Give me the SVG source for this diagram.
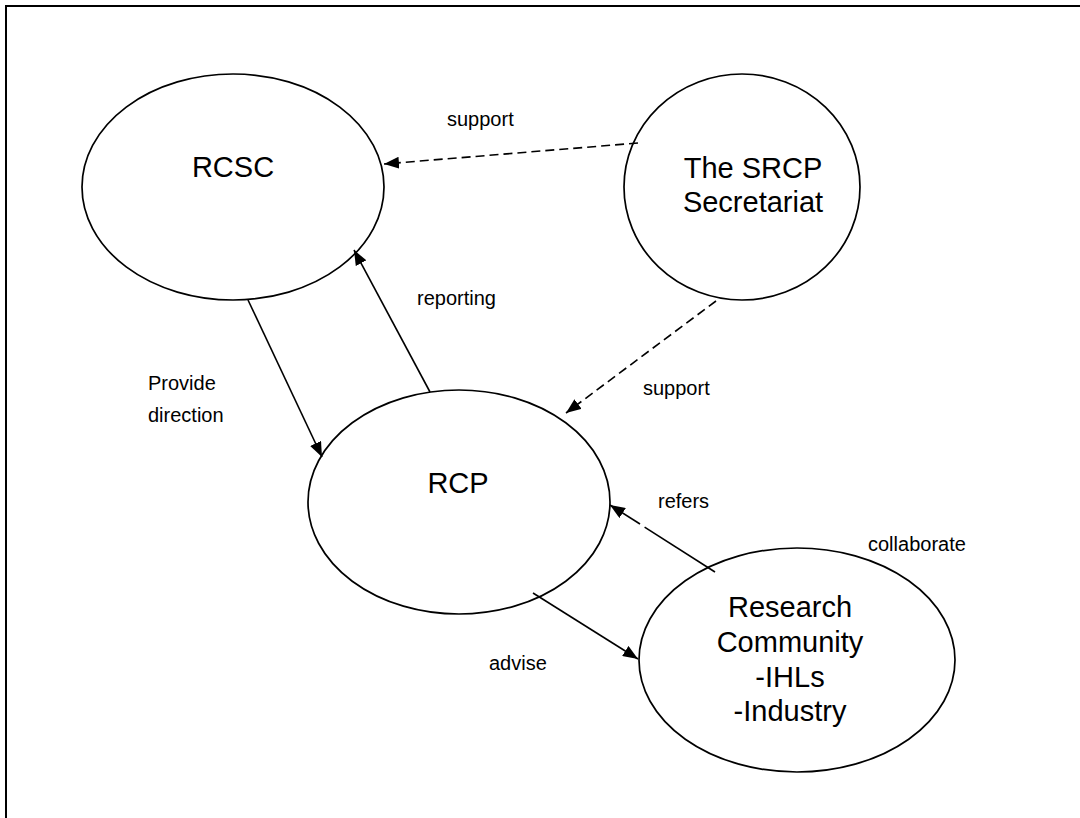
<svg xmlns="http://www.w3.org/2000/svg" width="1080" height="818" viewBox="0 0 1080 818">
<style>
.node ellipse{fill:#fff;stroke:#000;stroke-width:1.7}
.big{font-family:"Liberation Sans",Arial,sans-serif;font-size:29px;fill:#000;text-anchor:middle}
.lbl{font-family:"Liberation Sans",Arial,sans-serif;font-size:20px;fill:#000}
.conn line{stroke:#000;stroke-width:1.6;fill:none}
.conn .dash{stroke-dasharray:9 5}
</style>
<defs>
<marker id="ah" viewBox="0 0 15 12" refX="15" refY="6" markerWidth="15" markerHeight="12" markerUnits="userSpaceOnUse" orient="auto">
<path d="M0,0 L15,6 L0,12 z" fill="#000"/>
</marker>
</defs>
<rect x="0" y="0" width="1080" height="818" fill="#fff"/>
<rect x="6" y="6" width="1100" height="900" fill="none" stroke="#000" stroke-width="2"/>
<g id="rcsc" class="node">
<ellipse cx="233" cy="187" rx="151" ry="113"/>
<text class="big" x="233" y="177">RCSC</text>
</g>
<g id="secretariat" class="node">
<ellipse cx="742" cy="187" rx="118" ry="113"/>
<text class="big" x="753" y="178">The SRCP</text>
<text class="big" x="753" y="212">Secretariat</text>
</g>
<g id="rcp" class="node">
<ellipse cx="459" cy="502" rx="151" ry="112"/>
<text class="big" x="458" y="493">RCP</text>
</g>
<g id="research" class="node">
<ellipse cx="797" cy="660" rx="158" ry="112"/>
<text class="big" x="790" y="617">Research</text>
<text class="big" x="790" y="652">Community</text>
<text class="big" x="790" y="687">-IHLs</text>
<text class="big" x="790" y="721">-Industry</text>
</g>
<g id="connectors" class="conn">
<line class="dash" x1="638" y1="143" x2="384" y2="164" marker-end="url(#ah)"/>
<line class="dash" x1="716" y1="301" x2="566" y2="413" marker-end="url(#ah)"/>
<line x1="248" y1="300" x2="322" y2="457" marker-end="url(#ah)"/>
<line x1="430" y1="392" x2="354" y2="250" marker-end="url(#ah)"/>
<line x1="715" y1="572" x2="644.6" y2="527.1"/>
<line x1="640" y1="524" x2="610" y2="505" marker-end="url(#ah)"/>
<line x1="533" y1="593" x2="638" y2="659" marker-end="url(#ah)"/>
</g>
<g id="labels">
<text class="lbl" x="447" y="126">support</text>
<text class="lbl" x="417" y="305">reporting</text>
<text class="lbl" x="148" y="390">Provide</text>
<text class="lbl" x="148" y="422">direction</text>
<text class="lbl" x="643" y="395">support</text>
<text class="lbl" x="658" y="508">refers</text>
<text class="lbl" x="868" y="551">collaborate</text>
<text class="lbl" x="489" y="670">advise</text>
</g>
</svg>
